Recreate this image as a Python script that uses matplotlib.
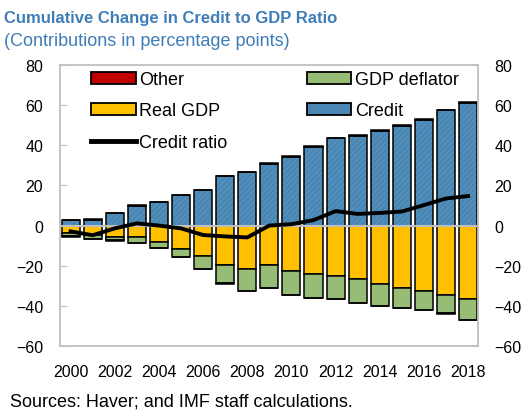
import matplotlib.pyplot as plt
import matplotlib.patches as mpatches
from matplotlib.lines import Line2D
import numpy as np

plt.rcParams['font.family'] = ['Liberation Sans', 'DejaVu Sans']
plt.rcParams['hatch.linewidth'] = 0.6

# data
years = list(range(2000, 2019))
credit = [3.0, 3.0, 6.3, 10.0, 11.5, 15.0, 17.5, 24.7, 26.5, 30.7,
          34.1, 39.1, 43.4, 44.5, 47.0, 49.5, 52.7, 57.7, 60.9]
real_gdp = [-3.8, -4.8, -5.6, -5.6, -8.1, -11.8, -15.1, -19.4, -21.8, -19.4,
            -22.6, -24.3, -25.1, -26.8, -29.3, -31.1, -32.6, -34.4, -36.8]
gdp_deflator = [-1.6, -2.1, -1.7, -3.3, -3.3, -3.8, -6.7, -9.0, -10.6, -11.6,
                -12.0, -11.7, -11.7, -11.8, -11.0, -10.0, -9.5, -9.0, -10.1]
other = [-0.5, 0.4, -0.5, 0.4, 0.4, 0.4, 0.4, -0.5, 0.4, 0.4,
         0.4, 0.4, 0.4, 0.4, 0.4, 0.4, 0.4, -0.5, 0.5]
credit_ratio = [-2.9, -4.8, -1.4, 1.1, 0.0, -1.4, -4.7, -5.4, -5.9, 0.0,
                0.7, 2.7, 7.2, 5.8, 6.3, 7.0, 10.2, 13.5, 14.7]
tick_labels = [str(y) if y % 2 == 0 else '' for y in years]

c_credit = '#4A86B4'
c_real = '#FFC000'
c_defl = '#97BC76'
c_other = '#C00000'
c_title = '#3F7DB8'
grey = '#BFBFBF'

fig = plt.figure(figsize=(5.22, 4.14), dpi=100)
ax = fig.add_axes([60 / 522, 1 - 347 / 414, 418 / 522, 281 / 414])

x = np.arange(len(years))
w = 0.82
ew = 1.1

credit = np.array(credit)
real_gdp = np.array(real_gdp)
gdp_deflator = np.array(gdp_deflator)
other = np.array(other)

# positive side
ax.bar(x, credit, w, color=c_credit, edgecolor='#5E98C2', hatch='//////', linewidth=0, zorder=2)
ax.bar(x, credit, w, facecolor='none', edgecolor='black', linewidth=ew, zorder=2)
pos_o = np.where(other > 0, other, 0)
ax.bar(x, pos_o, w, bottom=credit, color=c_other, edgecolor='black', linewidth=ew, zorder=2)

# negative side
ax.bar(x, real_gdp, w, color=c_real, edgecolor='black', linewidth=ew, zorder=2)
ax.bar(x, gdp_deflator, w, bottom=real_gdp, color=c_defl, edgecolor='black', linewidth=ew, zorder=2)
neg_o = np.where(other < 0, other, 0)
ax.bar(x, neg_o, w, bottom=real_gdp + gdp_deflator, color=c_other, edgecolor='black',
       linewidth=ew, zorder=2)

ax.axhline(0, color=grey, lw=1.5, zorder=3)
ax.plot(x, credit_ratio, color='black', lw=2.8, solid_joinstyle='round', zorder=4)

ax.set_xlim(-0.48, 18.45)
ax.set_ylim(-60, 80)
ax.set_yticks(range(-60, 81, 20))
ax.set_xticks(x)
ax.set_xticklabels(tick_labels)
ax.tick_params(axis='x', length=0, pad=13, labelsize=11.5)
ax.tick_params(axis='y', direction='in', length=5, color=grey, labelsize=11.5, pad=12,
               left=True, right=True, labelleft=True, labelright=True)
for s in ax.spines.values():
    s.set_color(grey)
    s.set_linewidth(1.3)

handles = [
    mpatches.Patch(facecolor=c_other, edgecolor='black', linewidth=1.3, label='Other'),
    mpatches.Patch(facecolor=c_real, edgecolor='black', linewidth=1.3, label='Real GDP'),
    Line2D([], [], color='black', lw=3.5, label='Credit ratio'),
    mpatches.Patch(facecolor=c_defl, edgecolor='black', linewidth=1.3, label='GDP deflator'),
    mpatches.Patch(facecolor=c_credit, edgecolor='black', linewidth=1.3, label='Credit'),
]
leg = ax.legend(handles=handles, ncol=2, loc='upper left', bbox_to_anchor=(0.036, 1.035),
                frameon=False, fontsize=13, handlelength=2.45, handleheight=0.6,
                handletextpad=0.2, labelspacing=0.78, columnspacing=4.4)

fig.text(4 / 522, 1 - 19 / 414, 'Cumulative Change in Credit to GDP Ratio', fontsize=12,
         fontweight='bold', color=c_title, va='center', ha='left')
fig.text(4 / 522, 1 - 42 / 414, '(Contributions in percentage points)', fontsize=13,
         color=c_title, va='center', ha='left')
fig.text(10 / 522, 1 - 402 / 414, 'Sources: Haver; and IMF staff calculations.', fontsize=13,
         color='black', va='center', ha='left')

fig.savefig('out.png', dpi=100)
